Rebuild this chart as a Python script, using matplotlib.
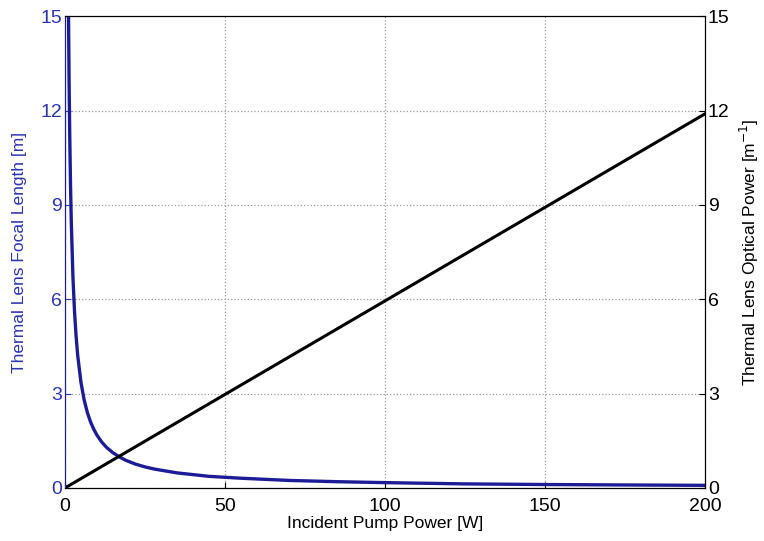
import matplotlib.pyplot as plt

# Read Data
pump_power = [1.12, 1.3, 1.5, 1.75, 2, 2.5, 3, 3.5, 4, 5, 6, 7, 8, 9, 10,
              11.5, 13, 15, 17, 19, 22, 25, 28, 35, 45, 55, 70, 85, 100,
              125, 150, 175, 200]
focal_length = [15.0, 12.9, 11.2, 9.6, 8.4, 6.7, 5.6, 4.8, 4.2, 3.36, 2.8,
                2.4, 2.1, 1.87, 1.68, 1.46, 1.29, 1.12, 0.99, 0.88, 0.76,
                0.67, 0.60, 0.48, 0.37, 0.31, 0.24, 0.20, 0.17, 0.13, 0.11,
                0.096, 0.084]
power_line = [0, 200]
optical_power = [0, 11.9]

x_ticks = [0, 50, 100, 150, 200]
y_ticks = [0, 3, 6, 9, 12, 15]

blue = "#1c1c96"
label_blue = "#2b34b0"

plt.rcParams["font.family"] = ["Liberation Sans", "DejaVu Sans"]

# Prepare Figure
fig = plt.figure(figsize=(7.64, 5.41), dpi=100)
ax = fig.add_axes([0.085, 0.098, 0.838, 0.872])
ax2 = ax.twinx()

# Plots
ax.plot(pump_power, focal_length, color=blue, lw=2.4, clip_on=True)
ax2.plot(power_line, optical_power, color="black", lw=2.2)

ax.set_xlim(0, 200)
ax.set_ylim(0, 15)
ax2.set_ylim(0, 15)
ax.set_xticks(x_ticks)
ax.set_yticks(y_ticks)
ax2.set_yticks(y_ticks)

ax.grid(True, color="#9a9a9a", linestyle=":", linewidth=0.9)
ax.tick_params(axis="x", direction="in", length=4, labelsize=14, pad=7)
ax.tick_params(axis="y", direction="in", length=4, labelsize=14,
               colors=label_blue, pad=2)
ax2.tick_params(axis="y", direction="in", length=4, labelsize=14, pad=2)
ax.spines["left"].set_color(blue)
ax2.spines["left"].set_color(blue)

ax.set_xlabel("Incident Pump Power [W]", fontsize=12.5, labelpad=1)
ax.set_ylabel("Thermal Lens Focal Length [m]", fontsize=12.5,
              color=label_blue, labelpad=10)
ax2.set_ylabel("Thermal Lens Optical Power [m$^{-1}$]", fontsize=12.5,
               labelpad=6)

# Save Figure
fig.savefig("out.png", dpi=100)
